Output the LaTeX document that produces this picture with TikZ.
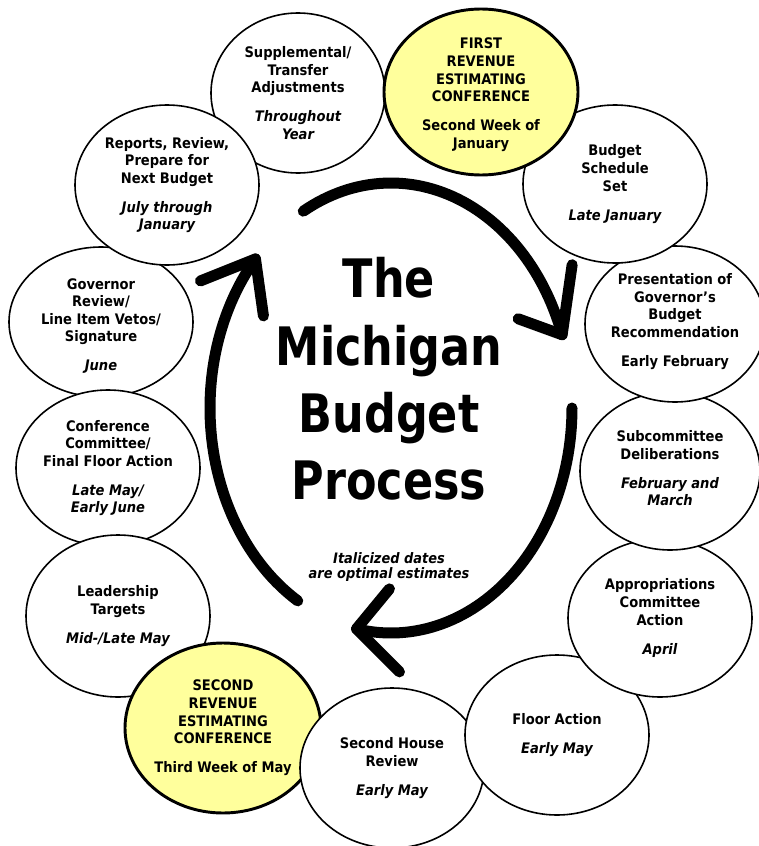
\documentclass[tikz,border=0pt]{standalone}
\usepackage{fontspec}
\setmainfont{DejaVu Sans}[FakeStretch=0.9]
\newfontfamily\titlefont{DejaVu Sans}[FakeStretch=0.84]
\usetikzlibrary{shapes.geometric}
\definecolor{revyellow}{HTML}{FFFF9C}
\tikzset{
  stage/.style={ellipse, draw=black, line width=1.2pt, fill=white, inner sep=0pt},
  revstage/.style={stage, fill=revyellow, line width=2.2pt},
  stagetext/.style={align=center, inner sep=0pt, font=\fontsize{10.9pt}{13.2pt}\selectfont\bfseries},
  cyclearrow/.style={line width=8.25pt, line cap=round, line join=round},
  titletext/.style={align=center, inner sep=0pt, font=\titlefont\fontsize{39.75pt}{50.6pt}\selectfont\bfseries},
  notetext/.style={align=center, inner sep=0pt, font=\fontsize{10.8pt}{11.5pt}\selectfont\bfseries\itshape},
}
\begin{document}
\begin{tikzpicture}[x=0.75pt,y=-0.75pt]
\useasboundingbox (0,0) rectangle (759,846);
\clip (0,0) rectangle (759,846);

% ellipses in stacking order
\node[stage, minimum width=130.5pt, minimum height=120pt] (sup) at (298,93) {};
\node[stagetext] (supt) at (sup.center) {Supplemental/\\Transfer\\Adjustments\\[8.5pt]\itshape Throughout\\\itshape Year};

\node[stage, minimum width=138pt, minimum height=112.5pt] (gov) at (101,322) {};
\node[stagetext] (govt) at ([yshift=-3pt]gov.center) {Governor\\Review/\\Line Item Vetos/\\Signature\\[8.5pt]\itshape June};

\node[stage, minimum width=138pt, minimum height=120pt] (rep) at (167,185) {};
\node[stagetext] (rept) at (rep.center) {Reports, Review,\\Prepare for\\Next Budget\\[8.5pt]\itshape July through\\\itshape January};

\node[stage, minimum width=138pt, minimum height=117pt] (conf) at (108,468) {};
\node[stagetext] (conft) at (conf.center) {Conference\\Committee/\\Final Floor Action\\[8.5pt]\itshape Late May/\\\itshape Early June};

\node[stage, minimum width=138pt, minimum height=121.5pt] (lead) at (118,616) {};
\node[stagetext] (leadt) at (lead.center) {Leadership\\Targets\\[8.5pt]\itshape Mid-/Late May};

\node[revstage, minimum width=147pt, minimum height=127.5pt] (rev2) at (223,728) {};
\node[stagetext] (rev2t) at (rev2.center) {SECOND\\REVENUE\\ESTIMATING\\CONFERENCE\\[8.5pt]Third Week of May};

\node[stage, minimum width=138pt, minimum height=120pt] (house) at (392,768) {};
\node[stagetext] (houset) at (house.center) {Second House\\Review\\[8.5pt]\itshape Early May};

\node[stage, minimum width=138pt, minimum height=120pt] (floor) at (557,735) {};
\node[stagetext] (floort) at (floor.center) {Floor Action\\[8.5pt]\itshape Early May};

\node[stage, minimum width=138pt, minimum height=118.5pt] (app) at (660,618) {};
\node[stagetext] (appt) at (app.center) {Appropriations\\Committee\\Action\\[8.5pt]\itshape April};

\node[stage, minimum width=135pt, minimum height=118.5pt] (sub) at (670,471) {};
\node[stagetext] (subt) at ([yshift=2pt]sub.center) {Subcommittee\\Deliberations\\[8.5pt]\itshape February and\\\itshape March};

\node[stage, minimum width=135pt, minimum height=117pt] (pres) at (675,324) {};
\node[stagetext] (prest) at ([yshift=2pt]pres.center) {Presentation of\\Governor’s\\Budget\\Recommendation\\[8.5pt]Early February};

\node[stage, minimum width=138pt, minimum height=118.5pt] (bud) at (615,184) {};
\node[stagetext] (budt) at (bud.center) {Budget\\Schedule\\Set\\[8.5pt]\itshape Late January};

\node[revstage, minimum width=145.5pt, minimum height=124.5pt] (rev1) at (481,92) {};
\node[stagetext] (rev1t) at ([yshift=-2pt]rev1.center) {FIRST\\REVENUE\\ESTIMATING\\CONFERENCE\\[8.5pt]Second Week of\\January};

% title and note
\node[titletext] (title) at (389,379) {The\\Michigan\\Budget\\Process};
\node[notetext] (note) at (389,567) {Italicized dates\\are optimal estimates};

% cycle arrows
\draw[cyclearrow] plot[domain=-119:-19, samples=60] ({391+181*cos(\x)},{408+225*sin(\x)});
\coordinate (tipA) at ({391+181*cos(-19)},{408+225*sin(-19)});
\draw[cyclearrow] (tipA) ++(-44,-16) -- (tipA) -- ++(10,-70);

\draw[cyclearrow] plot[domain=0:101, samples=60] ({391+181*cos(\x)},{408+225*sin(\x)});
\coordinate (tipB) at ({391+181*cos(101)},{408+225*sin(101)});
\draw[cyclearrow] (tipB) ++(33,-40) -- (tipB) -- ++(43,43);

\draw[cyclearrow] plot[domain=121:221.5, samples=60] ({391+181*cos(\x)},{408+225*sin(\x)});
\coordinate (tipC) at ({391+181*cos(221.5)},{408+225*sin(221.5)});
\draw[cyclearrow] (tipC) ++(-55,22) -- (tipC) -- ++(8,57);
\end{tikzpicture}
\end{document}
